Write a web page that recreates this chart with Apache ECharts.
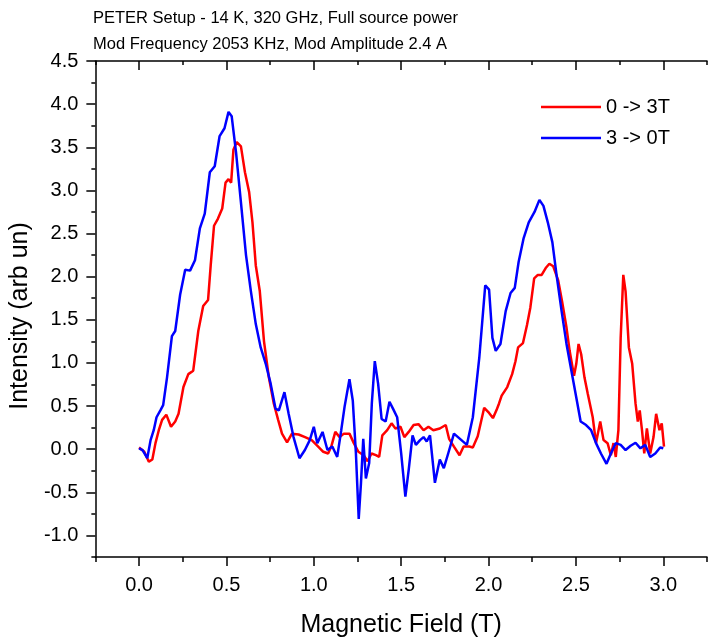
<!DOCTYPE html>
<html><head><meta charset="utf-8">
<script src="https://cdn.jsdelivr.net/npm/echarts@6/dist/echarts.min.js"></script>
<style>html,body{margin:0;padding:0;background:#fff}#c{width:710px;height:643px}</style>
</head><body><div id="c"></div>
<script>
const titleText = 'PETER Setup - 14 K, 320 GHz, Full source power\nMod Frequency 2053 KHz, Mod Amplitude 2.4 A';
const xAxisTitle = 'Magnetic Field (T)';
const yAxisTitle = 'Intensity (arb un)';
const seriesNames = ['0 -> 3T', '3 -> 0T'];

const upField = [0.00,0.03,0.056,0.076,0.094,0.113,0.132,0.156,0.183,0.207,0.226,0.254,0.282,0.31,0.339,0.367,0.395,0.41,0.429,0.451,0.476,0.495,0.512,0.527,0.54,0.559,0.583,0.606,0.63,0.649,0.668,0.691,0.715,0.743,0.771,0.796,0.818,0.847,0.875,0.913,0.95,0.988,1.025,1.054,1.082,1.1,1.123,1.148,1.172,1.204,1.229,1.255,1.285,1.308,1.33,1.355,1.374,1.392,1.42,1.445,1.467,1.496,1.518,1.543,1.571,1.599,1.628,1.656,1.684,1.721,1.755,1.774,1.802,1.834,1.857,1.89,1.91,1.938,1.975,2.003,2.025,2.045,2.06,2.075,2.107,2.135,2.154,2.169,2.197,2.22,2.239,2.261,2.282,2.304,2.327,2.348,2.37,2.398,2.421,2.446,2.464,2.489,2.502,2.515,2.53,2.549,2.568,2.596,2.615,2.639,2.658,2.681,2.70,2.715,2.728,2.743,2.756,2.771,2.784,2.803,2.822,2.841,2.854,2.865,2.878,2.891,2.906,2.925,2.944,2.959,2.978,2.991,3.004];
const upIntensity = [0.02,-0.03,-0.145,-0.12,0.07,0.22,0.34,0.40,0.26,0.32,0.41,0.72,0.87,0.91,1.37,1.66,1.73,2.13,2.59,2.67,2.79,3.09,3.13,3.09,3.47,3.56,3.51,3.21,2.98,2.63,2.13,1.83,1.25,0.83,0.53,0.34,0.18,0.08,0.18,0.17,0.14,0.105,0.03,-0.03,-0.05,0.03,0.2,0.14,0.18,0.18,0.07,-0.03,-0.07,-0.14,-0.05,-0.07,-0.09,0.16,0.22,0.3,0.24,0.26,0.14,0.2,0.28,0.29,0.22,0.26,0.22,0.24,0.28,0.12,0.03,-0.07,0.03,0.03,0.02,0.15,0.48,0.42,0.36,0.45,0.53,0.62,0.72,0.87,1.02,1.18,1.23,1.44,1.64,1.98,2.02,2.02,2.10,2.15,2.12,1.96,1.71,1.41,1.14,0.85,0.99,1.22,1.10,0.83,0.64,0.37,0.07,0.32,0.105,0.07,-0.07,0.07,-0.09,0.22,1.29,2.02,1.83,1.18,0.99,0.53,0.32,0.45,0.22,-0.05,0.24,-0.05,0.14,0.41,0.22,0.30,0.03];

const downField = [0.00,0.02,0.047,0.066,0.084,0.1,0.122,0.138,0.16,0.188,0.207,0.235,0.264,0.292,0.32,0.348,0.376,0.405,0.433,0.461,0.489,0.512,0.53,0.555,0.583,0.612,0.64,0.668,0.696,0.725,0.753,0.781,0.80,0.832,0.856,0.884,0.918,0.949,0.977,1.0,1.02,1.05,1.078,1.106,1.134,1.157,1.176,1.204,1.223,1.241,1.257,1.27,1.283,1.298,1.317,1.332,1.349,1.368,1.388,1.411,1.433,1.453,1.477,1.50,1.524,1.543,1.565,1.584,1.608,1.628,1.646,1.665,1.693,1.721,1.744,1.769,1.802,1.825,1.853,1.876,1.91,1.947,1.981,2.003,2.022,2.041,2.068,2.098,2.126,2.15,2.172,2.2,2.23,2.263,2.291,2.314,2.339,2.365,2.389,2.418,2.446,2.474,2.502,2.527,2.558,2.587,2.615,2.643,2.675,2.70,2.728,2.756,2.784,2.813,2.841,2.869,2.897,2.925,2.954,2.982,3.0];
const downIntensity = [0.01,-0.01,-0.105,0.105,0.22,0.37,0.45,0.51,0.83,1.31,1.37,1.79,2.08,2.07,2.19,2.56,2.73,3.21,3.28,3.63,3.72,3.91,3.86,3.44,2.86,2.25,1.83,1.45,1.18,0.99,0.76,0.47,0.45,0.66,0.41,0.14,-0.105,-0.01,0.105,0.26,0.07,0.2,-0.01,0.03,-0.09,0.22,0.49,0.81,0.565,-0.05,-0.81,-0.39,0.12,-0.34,-0.16,0.53,1.02,0.76,0.35,0.32,0.55,0.47,0.37,-0.05,-0.55,-0.24,0.16,0.05,0.105,0.14,0.09,0.16,-0.39,-0.12,-0.22,-0.05,0.18,0.14,0.09,0.05,0.37,1.06,1.90,1.85,1.29,1.14,1.22,1.60,1.81,1.87,2.17,2.44,2.63,2.75,2.89,2.82,2.63,2.40,2.02,1.60,1.22,0.91,0.60,0.32,0.28,0.22,0.07,-0.05,-0.17,-0.05,0.07,0.05,-0.01,0.04,0.075,0.01,0.05,-0.09,-0.05,0.02,0.01];

const xRange = [-0.25, 3.25];
const yRange = [-1.25, 4.5];
const xMajorTicks = [0, 0.5, 1.0, 1.5, 2.0, 2.5, 3.0];
const yMajorTicks = [-1.0, -0.5, 0, 0.5, 1.0, 1.5, 2.0, 2.5, 3.0, 3.5, 4.0, 4.5];
const minorStep = 0.25;

const FONT = 'Liberation Sans, Arial, sans-serif';
const zip = (xs, ys) => xs.map((x, i) => [x, ys[i]]);
const isMajor = (v) => Math.abs(v * 2 - Math.round(v * 2)) < 1e-6;
const lbl = (v) => isMajor(v) ? v.toFixed(1) : '';
const lineStyle = { color: '#000', width: 1.5 };

function xAx(extra) {
  return Object.assign({
    type: 'value', min: xRange[0], max: xRange[1], interval: minorStep,
    splitLine: { show: false }, axisLabel: { show: false },
    axisLine: { show: false, onZero: false, lineStyle }, axisTick: { show: true, lineStyle }
  }, extra);
}
function yAx(extra) {
  return Object.assign({
    type: 'value', min: yRange[0], max: yRange[1], interval: minorStep,
    splitLine: { show: false }, axisLabel: { show: false },
    axisLine: { show: false, onZero: false, lineStyle }, axisTick: { show: true, lineStyle }
  }, extra);
}

const chart = echarts.init(document.getElementById('c'), null, { renderer: 'canvas' });
chart.setOption({
  animation: false,
  backgroundColor: '#fff',
  title: {
    text: titleText, left: 93, top: 5, padding: 0,
    textStyle: { fontFamily: FONT, fontSize: 16.5, fontWeight: 'normal', color: '#000', lineHeight: 26 }
  },
  legend: {
    orient: 'vertical', left: 536, top: 92, itemWidth: 60, itemHeight: 2.5, itemGap: 11,
    icon: 'rect', data: seriesNames,
    textStyle: { fontFamily: FONT, fontSize: 20, color: '#000' }
  },
  grid: { left: 93, top: 61, right: -3, bottom: 82, containLabel: false },
  xAxis: [
    xAx({ position: 'bottom', axisLine: { show: true, onZero: false, lineStyle },
      axisTick: { show: true, length: 5, lineStyle },
      axisLabel: { show: true, formatter: lbl, margin: 18, fontSize: 20, color: '#000', fontFamily: FONT },
      name: xAxisTitle, nameLocation: 'middle', nameGap: 56,
      nameTextStyle: { fontFamily: FONT, fontSize: 25, color: '#000' } }),
    xAx({ position: 'bottom', axisTick: { show: true, length: 9, customValues: xMajorTicks, lineStyle } }),
    xAx({ position: 'top', axisLine: { show: true, onZero: false, lineStyle },
      axisTick: { show: true, inside: true, length: 4, lineStyle } }),
    xAx({ position: 'top', axisTick: { show: true, inside: true, length: 9, customValues: xMajorTicks, lineStyle } })
  ],
  yAxis: [
    yAx({ position: 'left', axisLine: { show: true, onZero: false, lineStyle },
      axisTick: { show: true, length: 4, lineStyle },
      axisLabel: { show: true, formatter: lbl, margin: 17, fontSize: 20, color: '#000', fontFamily: FONT },
      name: yAxisTitle, nameLocation: 'middle', nameGap: 56,
      nameTextStyle: { fontFamily: FONT, fontSize: 25, color: '#000', padding: [0, 14, 0, 0] } }),
    yAx({ position: 'left', axisTick: { show: true, length: 9, customValues: yMajorTicks, lineStyle } })
  ],
  series: [
    { name: seriesNames[0], type: 'line', xAxisIndex: 0, yAxisIndex: 0, data: zip(upField, upIntensity),
      showSymbol: false, symbol: 'none', lineStyle: { color: '#ff0000', width: 2.5 }, itemStyle: { color: '#ff0000' } },
    { name: seriesNames[1], type: 'line', xAxisIndex: 0, yAxisIndex: 0, data: zip(downField, downIntensity),
      showSymbol: false, symbol: 'none', lineStyle: { color: '#0000ff', width: 2.5 }, itemStyle: { color: '#0000ff' } }
  ]
});
</script>
</body></html>
